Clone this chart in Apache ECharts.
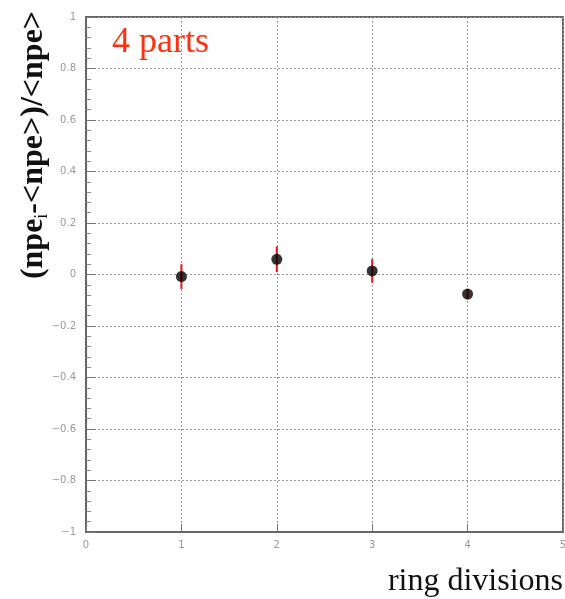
<!DOCTYPE html>
<html><head><meta charset="utf-8">
<script src="https://cdn.jsdelivr.net/npm/echarts@6/dist/echarts.min.js"></script>
<style>html,body{margin:0;padding:0;background:#fff}#c{width:565px;height:599px}</style>
</head><body><div id="c"></div>
<script>
const divisions = [1, 2, 3, 4];
const values = [-0.008, 0.059, 0.014, -0.076];
const errors = [0.048, 0.05, 0.046, 0.02];
const xTicks = [0, 1, 2, 3, 4, 5];
const yTicks = [-1, -0.8, -0.6, -0.4, -0.2, 0, 0.2, 0.4, 0.6, 0.8, 1];

const chart = echarts.init(document.getElementById('c'));
const pts = divisions.map((d, i) => [d, values[i]]);
const errData = divisions.map((d, i) => [d, values[i] - errors[i], values[i] + errors[i]]);
const fmt = v => (v < 0 ? '\u2212' : '') + String(Math.abs(Math.round(v * 10) / 10));

chart.setOption({
  animation: false,
  grid: { left: 86, right: 2, top: 17, bottom: 67, show: true, borderColor: '#666', borderWidth: 2, outerBoundsMode: 'none', containLabel: false },
  xAxis: {
    type: 'value', min: 0, max: 5, interval: 1,
    axisLine: { show: true, onZero: false, lineStyle: { color: '#666', width: 2 } },
    axisTick: { show: true, inside: true, length: 8, lineStyle: { color: '#777' } },
    axisLabel: { color: '#999', fontSize: 10, fontFamily: 'DejaVu Sans', margin: 8,
      formatter: v => xTicks.includes(v) ? String(v) : '' },
    splitLine: { show: true, lineStyle: { color: '#999', type: [2, 2], width: 1 } }
  },
  yAxis: {
    type: 'value', min: -1, max: 1, interval: 0.2,
    axisLine: { show: true, onZero: false, lineStyle: { color: '#666', width: 2 } },
    axisTick: { show: true, inside: true, length: 10, lineStyle: { color: '#777' } },
    minorTick: { show: true, splitNumber: 5, length: 5, lineStyle: { color: '#888' } },
    axisLabel: { color: '#999', fontSize: 10, fontFamily: 'DejaVu Sans', margin: 10,
      formatter: v => { const t = yTicks.find(y => Math.abs(y - v) < 1e-6); return t === undefined ? '' : fmt(t); } },
    splitLine: { show: true, lineStyle: { color: '#999', type: [2, 2], width: 1 } }
  },
  graphic: [
    { type: 'text', left: 112, top: 25, style: { text: '4 parts', fontFamily: 'Liberation Serif', fontSize: 36, fill: '#ff3010' } },
    { type: 'text', right: 2, top: 566, style: { text: 'ring divisions', fontFamily: 'Liberation Serif', fontSize: 32, fill: '#111' } },
    { type: 'text', x: 34, y: 145, rotation: Math.PI / 2,
      style: { text: '{a|(npe}{s|i}{a|-<npe>)/<npe>}', align: 'center', verticalAlign: 'middle',
        rich: {
          a: { fontFamily: 'Liberation Serif', fontSize: 32, fill: '#111', fontWeight: 'bold' },
          s: { fontFamily: 'Liberation Serif', fontSize: 18, fill: '#111', padding: [16, 0, 0, 0] }
        } } }
  ],
  series: [
    {
      type: 'custom', data: errData, z: 3,
      renderItem: (params, api) => {
        const a = api.coord([api.value(0), api.value(1)]);
        const b = api.coord([api.value(0), api.value(2)]);
        return { type: 'line', shape: { x1: a[0], y1: a[1], x2: b[0], y2: b[1] }, style: { stroke: '#ee1111', lineWidth: 2 } };
      }
    },
    { type: 'scatter', data: pts, symbol: 'circle', symbolSize: 11, itemStyle: { color: '#000' }, z: 5 }
  ]
});
</script></body></html>
